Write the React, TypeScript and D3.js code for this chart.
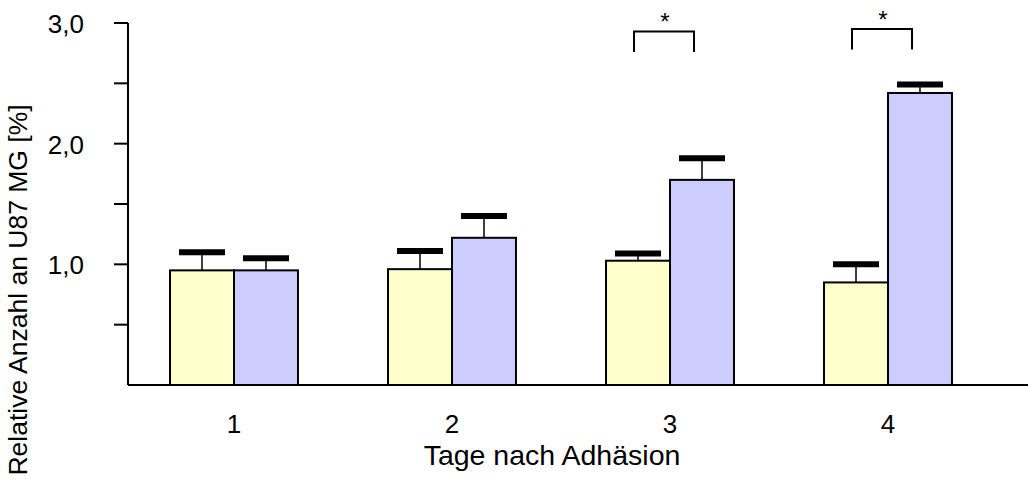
import React from "react";
import * as d3 from "d3";

const days = ["1", "2", "3", "4"];
const controlValues = [0.95, 0.96, 1.03, 0.85];
const controlErrors = [0.15, 0.15, 0.06, 0.15];
const treatedValues = [0.95, 1.22, 1.7, 2.42];
const treatedErrors = [0.1, 0.18, 0.18, 0.07];
const yTicks = [0, 0.5, 1, 1.5, 2, 2.5, 3];
const yTickLabels = ["", "", "1,0", "", "2,0", "", "3,0"];
const sigDays = ["3", "4"];
const sigTop = [2.93, 2.95];
const sigBottom = [2.76, 2.78];

const W = 1028;
const H = 479;
const font = "Arial, 'Liberation Sans', sans-serif";

const App = () => {
  const y = d3.scaleLinear().domain([0, 3]).range([385, 23]);
  const x = d3
    .scaleBand()
    .domain(days)
    .range([125, 997])
    .paddingInner(0.413)
    .paddingOuter(0.2065);
  const sub = d3
    .scaleBand()
    .domain(["ctrl", "treat"])
    .range([0, x.bandwidth()]);

  const series = [
    { key: "ctrl", values: controlValues, errors: controlErrors, fill: "#FFFFCC" },
    { key: "treat", values: treatedValues, errors: treatedErrors, fill: "#CCCCFF" },
  ];
  const axisX = 128;
  const capW = 46;

  return (
    <svg
      width={W}
      height={H}
      style={{ position: "absolute", left: 0, top: 0, background: "#fff" }}
      fontFamily={font}
    >
      {/* bars with error bars */}
      {series.map((s) =>
        days.map((d, i) => {
          const bx = (x(d) as number) + (sub(s.key) as number);
          const bw = sub.bandwidth();
          const cx = bx + bw / 2;
          const top = y(s.values[i]);
          const cap = y(s.values[i] + s.errors[i]);
          return (
            <g key={s.key + d}>
              <line x1={cx} x2={cx} y1={top} y2={cap} stroke="#000" strokeWidth={1.5} />
              <line
                x1={cx - capW / 2}
                x2={cx + capW / 2}
                y1={cap}
                y2={cap}
                stroke="#000"
                strokeWidth={6}
              />
              <rect
                x={bx}
                y={top}
                width={bw}
                height={y(0) - top}
                fill={s.fill}
                stroke="#000"
                strokeWidth={2}
              />
            </g>
          );
        })
      )}

      {/* axes */}
      <line x1={axisX} x2={axisX} y1={y(3)} y2={y(0)} stroke="#000" strokeWidth={2} />
      <line x1={axisX} x2={W} y1={y(0)} y2={y(0)} stroke="#000" strokeWidth={2} />
      {yTicks.map((t, i) =>
        t === 0 ? null : (
          <g key={"yt" + t}>
            <line x1={axisX - 14} x2={axisX} y1={y(t)} y2={y(t)} stroke="#000" strokeWidth={2} />
            <text
              x={84}
              y={y(t) + 3}
              textAnchor="end"
              dominantBaseline="middle"
              fontSize={26}
              fill="#000"
            >
              {yTickLabels[i]}
            </text>
          </g>
        )
      )}
      {days.map((d) => (
        <text
          key={"xt" + d}
          x={(x(d) as number) + x.bandwidth() / 2}
          y={433}
          textAnchor="middle"
          fontSize={26}
          fill="#000"
        >
          {d}
        </text>
      ))}

      {/* significance brackets */}
      {sigDays.map((d, i) => {
        const x0 = (x(d) as number) + 28;
        const x1 = x0 + 60;
        const t = y(sigTop[i]);
        const b = y(sigBottom[i]);
        return (
          <g key={"sig" + d}>
            <path
              d={`M${x0},${b}V${t}H${x1}V${b}`}
              fill="none"
              stroke="#000"
              strokeWidth={2}
            />
            <text x={(x0 + x1) / 2 + 1} y={t - 1} textAnchor="middle" fontSize={24} fill="#000">
              *
            </text>
          </g>
        );
      })}

      {/* titles */}
      <text x={552} y={465} textAnchor="middle" fontSize={28.5} fill="#000">
        Tage nach Adhäsion
      </text>
      <text
        transform={`translate(27,290) rotate(-90)`}
        textAnchor="middle"
        fontSize={26.5}
        fill="#000"
      >
        Relative Anzahl an U87 MG [%]
      </text>
    </svg>
  );
};

export default App;
